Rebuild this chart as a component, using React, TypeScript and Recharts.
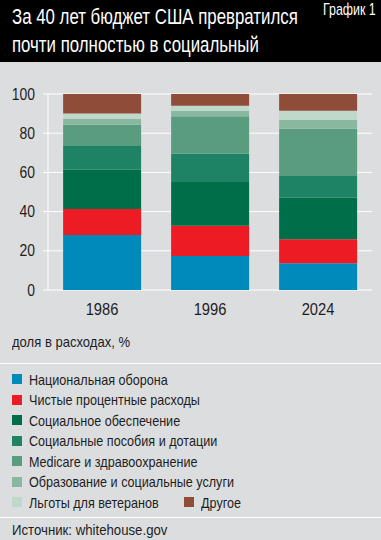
import React from 'react';
import { BarChart, Bar, XAxis, YAxis, CartesianGrid } from 'recharts';

const years = ['1986', '1996', '2024'];
const seriesNames = [
  'Национальная оборона',
  'Чистые процентные расходы',
  'Социальное обеспечение',
  'Социальные пособия и дотации',
  'Medicare и здравоохранение',
  'Образование и социальные услуги',
  'Льготы для ветеранов',
  'Другое',
];
const seriesColors = ['#0089BB', '#ED1C24', '#006F49', '#1E8364', '#5A9C80', '#8AB7A0', '#BED8CA', '#8F4C38'];
const defense = [28.0, 17.4, 13.7];
const interest = [13.3, 15.4, 12.2];
const socialSecurity = [20.0, 22.3, 21.2];
const incomeSecurity = [12.2, 14.4, 11.1];
const medicare = [10.8, 19.1, 24.1];
const education = [3.1, 2.7, 4.6];
const veterans = [2.7, 2.7, 4.6];
const other = [9.9, 6.0, 8.5];
const seriesValues = [defense, interest, socialSecurity, incomeSecurity, medicare, education, veterans, other];
const yTicks = [0, 20, 40, 60, 80, 100];
const bandEdges = [0, 1, 2, 3];

const data = years.map((y, i) => {
  const row: Record<string, any> = { year: y };
  seriesNames.forEach((n, k) => { row['s' + k] = seriesValues[k][i]; });
  return row;
});

const FONT = "'Liberation Sans', Arial, sans-serif";
const BG = '#DCDDDF';
const TXT = '#1e1e1e';

const Narrow = ({ s, children }: { s: number; children: React.ReactNode }) => (
  <span style={{ display: 'inline-block', transform: `scaleX(${s})`, transformOrigin: 'left center', whiteSpace: 'nowrap' }}>{children}</span>
);

const XTick = (props: any) => {
  const { x, y, payload } = props;
  return (
    <g transform={`translate(${x},${y})`}>
      <text transform="scale(0.92,1)" textAnchor="middle" dy="0.71em" fill={TXT} fontSize={16} fontFamily={FONT}>{payload.value}</text>
    </g>
  );
};

const YTick = (props: any) => {
  const { x, y, payload } = props;
  return (
    <g transform={`translate(${x},${y})`}>
      <text transform="scale(0.87,1)" textAnchor="end" dy="0.355em" fill={TXT} fontSize={16} fontFamily={FONT}>{payload.value}</text>
    </g>
  );
};

export default function App() {
  return (
    <div style={{ position: 'fixed', left: 0, top: 0, width: 381, height: 540, background: BG, fontFamily: FONT, overflow: 'hidden' }}>
      <div style={{ position: 'absolute', left: 0, top: 0, width: 381, height: 62, background: '#000' }}>
        <div style={{ position: 'absolute', left: 12, top: 3, color: '#fff', fontSize: 22, lineHeight: '28px', whiteSpace: 'nowrap' }}>
          <div><Narrow s={0.765}>За 40 лет бюджет США превратился</Narrow></div>
          <div><Narrow s={0.765}>почти полностью в социальный</Narrow></div>
        </div>
        <div style={{ position: 'absolute', left: 323, top: 0, color: '#fff', fontSize: 17, lineHeight: '20px', whiteSpace: 'nowrap' }}>
          <Narrow s={0.73}>График 1</Narrow>
        </div>
      </div>
      <div style={{ position: 'absolute', left: 0, top: 62 }}>
        <BarChart width={381} height={260} data={data} margin={{ top: 32, right: 9, bottom: 0, left: 0 }} barCategoryGap="14%">
          <CartesianGrid vertical={false} stroke="#fff" strokeWidth={1} />
          <XAxis xAxisId="c" dataKey="year" axisLine={false} tickLine={false} height={32}
            tick={<XTick />} tickSize={6} tickMargin={8} />
          <XAxis xAxisId="n" type="number" domain={[0, 3]} ticks={bandEdges} tick={false}
            axisLine={{ stroke: '#fff' }} tickLine={{ stroke: '#fff' }} tickSize={5} height={0} />
          <YAxis domain={[0, 100]} ticks={yTicks} width={48} axisLine={{ stroke: '#fff' }}
            tickLine={{ stroke: '#fff' }} tickSize={5} tickMargin={8} tick={<YTick />} />
          <YAxis yAxisId="r" orientation="right" domain={[0, 100]} tick={false} tickLine={false}
            axisLine={{ stroke: '#fff' }} width={0} />
          {seriesNames.map((n, k) => (
            <Bar key={n} xAxisId="c" dataKey={'s' + k} name={n} stackId="a" fill={seriesColors[k]} isAnimationActive={false} />
          ))}
        </BarChart>
      </div>
      <div style={{ position: 'absolute', left: 12, top: 333, fontSize: 15, color: TXT, lineHeight: '18px' }}>
        <Narrow s={0.87}>доля в расходах, %</Narrow>
      </div>
      <div style={{ position: 'absolute', left: 0, top: 363, width: 381, height: 1, background: '#fff' }} />
      {seriesNames.map((n, k) => {
        const row = k < 7 ? k : 6;
        const left = k < 7 ? 12 : 184;
        return (
          <div key={n} style={{ position: 'absolute', left, top: 370 + row * 20.5, height: 18, display: 'flex', alignItems: 'center', fontSize: 15, color: TXT, whiteSpace: 'nowrap' }}>
            <span style={{ display: 'inline-block', width: 10, height: 10, background: seriesColors[k], marginRight: 7 }} />
            <Narrow s={0.84}>{n}</Narrow>
          </div>
        );
      })}
      <div style={{ position: 'absolute', left: 0, top: 517, width: 381, height: 1, background: '#fff' }} />
      <div style={{ position: 'absolute', left: 12, top: 521, fontSize: 15, color: TXT, lineHeight: '18px' }}>
        <Narrow s={0.88}>Источник: whitehouse.gov</Narrow>
      </div>
    </div>
  );
}
